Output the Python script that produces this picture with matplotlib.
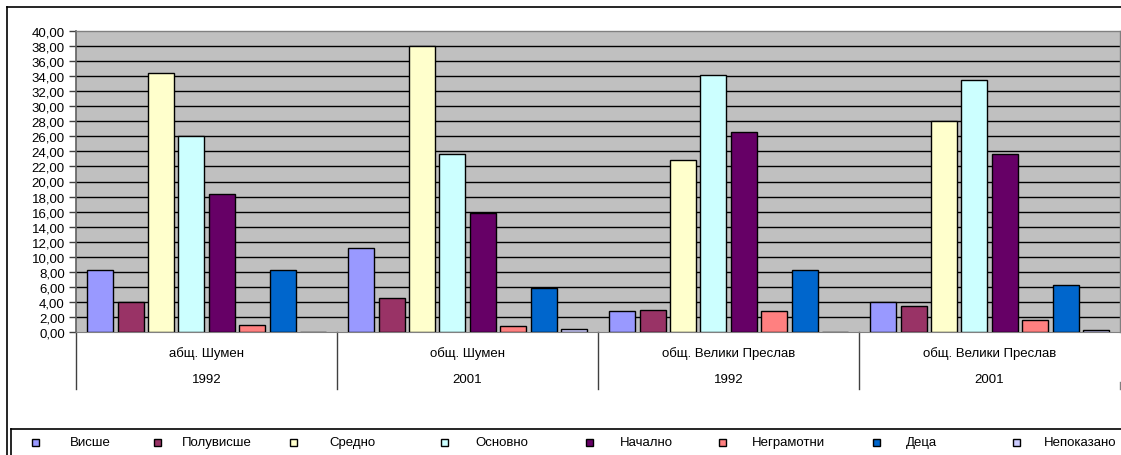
import matplotlib
matplotlib.use("Agg")
import matplotlib.pyplot as plt
from matplotlib.lines import Line2D
from matplotlib.patches import Rectangle
import numpy as np

plt.rcParams['font.family'] = ['Liberation Sans', 'DejaVu Sans']

places = ["абщ. Шумен", "общ. Шумен", "общ. Велики Преслав", "общ. Велики Преслав"]
years = ["1992", "2001", "1992", "2001"]
series_names = ["Висше", "Полувисше", "Средно", "Основно", "Начално", "Неграмотни", "Деца", "Непоказано"]
colors = ["#9999FF", "#993366", "#FFFFCC", "#CCFFFF", "#660066", "#FF8080", "#0066CC", "#CCCCFF"]

visshe = [8.2, 11.1, 2.75, 4.0]
poluvisshe = [4.0, 4.5, 2.9, 3.4]
sredno = [34.4, 38.0, 22.8, 28.0]
osnovno = [26.0, 23.7, 34.2, 33.5]
nachalno = [18.3, 15.8, 26.6, 23.7]
negramotni = [0.97, 0.8, 2.75, 1.6]
deca = [8.2, 5.9, 8.25, 6.2]
nepokazano = [0.0, 0.35, 0.0, 0.2]
values = [visshe, poluvisshe, sredno, osnovno, nachalno, negramotni, deca, nepokazano]

W, H = 1121, 456
fig = plt.figure(figsize=(W / 100, H / 100), dpi=100)
FS = 9.5

px_l, px_r, px_t, px_b = 76, 1120, 32, 333
ax = fig.add_axes([px_l / W, 1 - px_b / H, (px_r - px_l) / W, (px_b - px_t) / H])
ax.set_facecolor("#C0C0C0")

n_groups = len(places)
slot = 30.4 / 261
bw = 26 / 261
x0 = np.arange(n_groups) + 0.5
for i, (name, vals, c) in enumerate(zip(series_names, values, colors)):
    xs = x0 + (i - 3.5) * slot
    ax.bar(xs, vals, width=bw, color=c, edgecolor="black", linewidth=1.0, zorder=3)

ax.set_xlim(0, n_groups)
ax.set_ylim(0, 40)
yt = np.arange(0, 41, 2)
ax.set_yticks(yt)
ax.set_yticklabels([f"{v:.2f}".replace(".", ",") for v in yt], fontsize=FS)
ax.tick_params(axis="y", length=5, width=1, color="#404040", pad=3)
ax.set_xticks([])
for v in yt[1:-1]:
    ax.axhline(v, color="black", linewidth=1.0, zorder=1)

for s in ["top", "right"]:
    ax.spines[s].set_color("#808080")
    ax.spines[s].set_linewidth(1)
ax.spines["bottom"].set_color("#808080")
ax.spines["left"].set_color("#606060")
ax.spines["left"].set_linewidth(1.2)

# category labels below axis
axh = px_b - px_t
trans = ax.get_xaxis_transform()
for i in range(n_groups):
    ax.text(x0[i], -(354 - px_b) / axh, places[i], transform=trans, ha="center", va="center", fontsize=FS)
    ax.text(x0[i], -(380 - px_b) / axh, years[i], transform=trans, ha="center", va="center", fontsize=FS)
for b in range(n_groups):
    ax.plot([b, b], [0, -(390 - px_b) / axh], transform=trans, color="#404040", linewidth=1, clip_on=False)
ax.plot([n_groups, n_groups], [-(383 - px_b) / axh, -(390 - px_b) / axh], transform=trans,
        color="#808080", linewidth=1, clip_on=False)

# outer frame
def fx(x):
    return x / W

def fy(y):
    return 1 - y / H

fig.add_artist(Line2D([fx(7), fx(7)], [fy(8), fy(456)], color="black", linewidth=1.2))
fig.add_artist(Line2D([fx(7), fx(1121)], [fy(8), fy(8)], color="black", linewidth=1.2))
# legend box
fig.add_artist(Line2D([fx(11), fx(11)], [fy(430), fy(456)], color="black", linewidth=1.2))
fig.add_artist(Line2D([fx(11), fx(1121)], [fy(430), fy(430)], color="black", linewidth=1.2))

leg_marker_x = [35, 157, 293, 444, 589, 722, 876, 1016]
leg_text_x = [70, 182, 329, 475, 620, 752, 906, 1044]
ly = 443
for name, c, mx, tx in zip(series_names, colors, leg_marker_x, leg_text_x):
    fig.add_artist(Rectangle((fx(mx - 3.5), fy(ly + 3.5)), 7 / W, 7 / H, facecolor=c,
                             edgecolor="black", linewidth=1.0, transform=fig.transFigure))
    fig.text(fx(tx), fy(ly), name, ha="left", va="center", fontsize=FS)

fig.savefig("out.png", dpi=100)
